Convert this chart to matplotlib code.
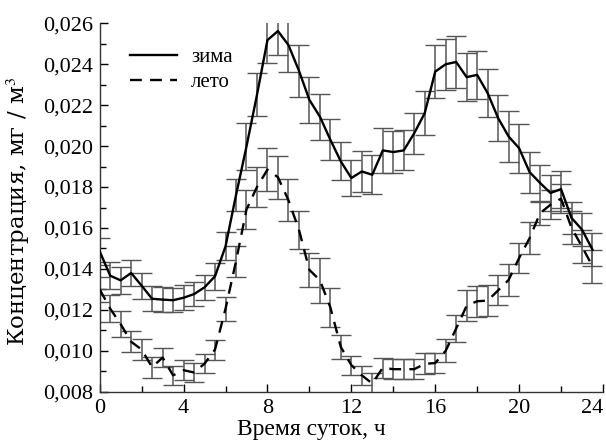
import matplotlib
matplotlib.use("Agg")
import matplotlib.pyplot as plt
from matplotlib.ticker import MultipleLocator, FuncFormatter

plt.rcParams['font.family'] = ['Liberation Serif', 'DejaVu Serif']
plt.rcParams['mathtext.fontset'] = 'stix'

hours = [i * 0.5 for i in range(48)]

winter = [0.01486, 0.01367, 0.01344, 0.01380, 0.01318, 0.01254, 0.01250, 0.01247,
          0.01259, 0.01277, 0.01310, 0.01364, 0.01510, 0.01760, 0.01998, 0.02250,
          0.02518, 0.02562, 0.02494, 0.02369, 0.02226, 0.02144, 0.02031, 0.01925,
          0.01844, 0.01876, 0.01860, 0.01979, 0.01971, 0.01979, 0.02063, 0.02161,
          0.02364, 0.02400, 0.02411, 0.02337, 0.02348, 0.02259, 0.02137, 0.02047,
          0.01990, 0.01873, 0.01820, 0.01771, 0.01790, 0.01649, 0.01592, 0.01494]
winter_err = [0.00065, 0.00067, 0.00065, 0.00063, 0.00063, 0.00062, 0.00061, 0.00060,
              0.00061, 0.00058, 0.00060, 0.00065, 0.00068, 0.00078, 0.00115, 0.00105,
              0.00110, 0.00116, 0.00130, 0.00127, 0.00114, 0.00112, 0.00100, 0.00093,
              0.00088, 0.00098, 0.00095, 0.00108, 0.00103, 0.00098, 0.00100, 0.00106,
              0.00130, 0.00125, 0.00129, 0.00118, 0.00119, 0.00116, 0.00111, 0.00126,
              0.00120, 0.00100, 0.00090, 0.00090, 0.00090, 0.00080, 0.00080, 0.00080]

summer = [0.01300, 0.01206, 0.01130, 0.01044, 0.01006, 0.00920, 0.00967, 0.00880,
          0.00905, 0.00894, 0.00937, 0.01006, 0.01205, 0.01437, 0.01690, 0.01800,
          0.01885, 0.01848, 0.01736, 0.01592, 0.01395, 0.01345, 0.01212, 0.01018,
          0.00930, 0.00880, 0.00840, 0.00917, 0.00910, 0.00910, 0.00910, 0.00936,
          0.00940, 0.01000, 0.01109, 0.01220, 0.01242, 0.01245, 0.01295, 0.01346,
          0.01453, 0.01550, 0.01672, 0.01714, 0.01743, 0.01601, 0.01509, 0.01413]
summer_err = [0.00060, 0.00065, 0.00063, 0.00051, 0.00052, 0.00051, 0.00045, 0.00046,
              0.00049, 0.00045, 0.00045, 0.00049, 0.00060, 0.00077, 0.00094, 0.00098,
              0.00106, 0.00106, 0.00103, 0.00093, 0.00083, 0.00110, 0.00095, 0.00057,
              0.00046, 0.00045, 0.00050, 0.00049, 0.00050, 0.00050, 0.00050, 0.00051,
              0.00050, 0.00057, 0.00067, 0.00076, 0.00076, 0.00075, 0.00073, 0.00076,
              0.00075, 0.00079, 0.00057, 0.00070, 0.00070, 0.00080, 0.00080, 0.00080]

labels = ['зима', 'лето']
x_label = 'Время суток, ч'
y_label = 'Концентрация, мг / м$^3$'
x_ticks = [0, 4, 8, 12, 16, 20, 24]
x_tick_labels = ['0', '4', '8', '12', '16', '20', '24']

fig = plt.figure(figsize=(6.06, 4.43), dpi=100)
ax = fig.add_axes([0.1645, 0.1158, 0.8305, 0.8316])

ecol = '#555555'
ax.errorbar(hours, winter, yerr=winter_err, fmt='none', ecolor=ecol, elinewidth=1.1,
            capsize=7, capthick=1.0, zorder=2)
ax.errorbar(hours, summer, yerr=summer_err, fmt='none', ecolor=ecol, elinewidth=1.1,
            capsize=7, capthick=1.0, zorder=2)
ax.plot(hours, winter, color='black', lw=1.7, label=labels[0], zorder=3)
ax.plot(hours, summer, color='black', lw=1.7, ls=(0, (5, 3.5)), label=labels[1], zorder=3)

ax.set_xlim(0, 24)
ax.set_ylim(0.008, 0.026)
ax.set_xticks(x_ticks, x_tick_labels)
ax.xaxis.set_minor_locator(MultipleLocator(2))
ax.yaxis.set_major_locator(MultipleLocator(0.002))
ax.yaxis.set_minor_locator(MultipleLocator(0.001))
ax.yaxis.set_major_formatter(FuncFormatter(lambda v, p: f"{v:.3f}".replace('.', ',')))

for s in ['top', 'right']:
    ax.spines[s].set_visible(False)
for s in ['left', 'bottom']:
    ax.spines[s].set_color('#333333')
    ax.spines[s].set_linewidth(1.0)

ax.tick_params(which='both', direction='in', labelsize=16, colors='black')
ax.tick_params(which='major', length=6, width=1)
ax.tick_params(which='minor', length=4, width=1)
ax.tick_params(axis='x', pad=5)
ax.tick_params(axis='y', pad=5)

ax.set_xlabel(x_label, fontsize=17)
ax.xaxis.set_label_coords(0.42, -0.075)
ax.set_ylabel(y_label, fontsize=16.5, family=['DejaVu Serif'])
ax.yaxis.set_label_coords(-0.134, 0.49)

leg = ax.legend(loc='upper left', bbox_to_anchor=(0.022, 0.985), frameon=False,
                fontsize=15, handlelength=2.3, handletextpad=0.65, labelspacing=0.25)

ax.xaxis.get_major_ticks()[-1].label1.set_horizontalalignment('right')

fig.savefig('out.png', dpi=100)
